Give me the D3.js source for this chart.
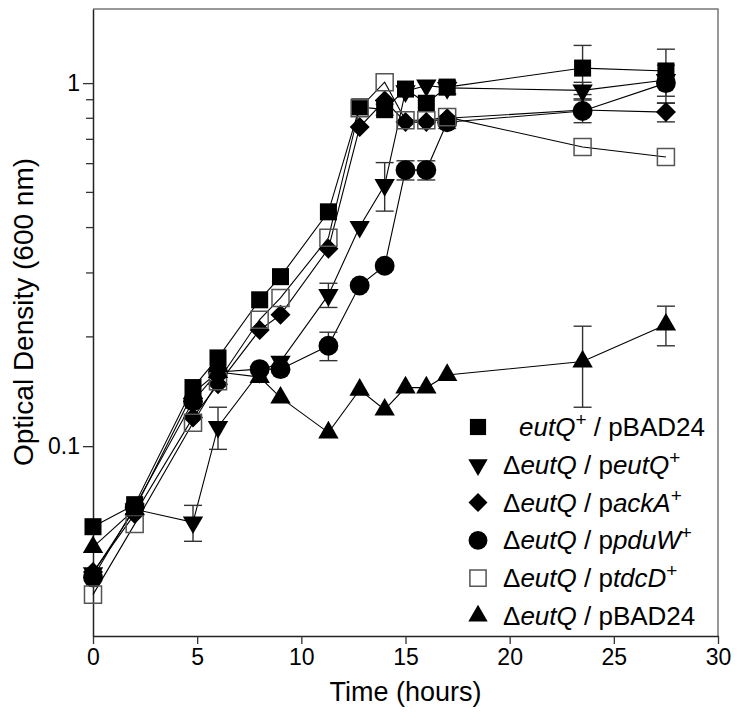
<!DOCTYPE html>
<html>
<head>
<meta charset="utf-8">
<script src="https://cdn.jsdelivr.net/npm/d3@7"></script>
<style>
  body { margin: 0; background: #fff; }
  text { font-family: Arial, "Liberation Sans", sans-serif; fill: #000; }
</style>
</head>
<body>
<div id="chart"></div>
<script>
// ......................
// Data
var times = [0, 2, 4.8, 6, 8, 9, 11.3, 12.8, 14, 15, 16, 17, 23.5, 27.5];

var eutQpBAD = [0.060, 0.069, 0.145, 0.175, 0.253, 0.293, 0.442, 0.86, 0.845, 0.963, 0.88, 0.975, 1.10, 1.08];
var peutQ    = [0.0447, 0.067, 0.0617, 0.113, 0.16, 0.171, 0.261, 0.402, 0.524, 0.95, 0.985, 0.97, 0.955, 1.02];
var packA    = [0.045, 0.065, 0.12, 0.148, 0.209, 0.23, 0.35, 0.757, 0.895, 0.781, 0.781, 0.80, 0.843, 0.832];
var ppduW    = [0.0435, 0.068, 0.133, 0.16, 0.163, 0.163, 0.189, 0.277, 0.314, 0.576, 0.576, 0.78, 0.838, 1.0];
var ptdcD    = [0.039, 0.061, 0.116, 0.151, 0.223, 0.256, 0.375, 0.853, 1.006, 0.79, 0.79, 0.806, 0.667, 0.626];
var pBAD24   = [0.0527, 0.067, 0.14, 0.16, 0.155, 0.136, 0.109, 0.143, 0.126, 0.145, 0.145, 0.157, 0.171, 0.216];

// error bars (+/-), 0 = none drawn
var errEutQpBAD = [0, 0, 0, 0, 0, 0, 0, 0, 0.03, 0, 0, 0.04, 0.17, 0.16];
var errPeutQ    = [0, 0, 0.007, 0.015, 0, 0, 0.02, 0, 0.08, 0, 0, 0.04, 0.05, 0];
var errPackA    = [0, 0, 0, 0, 0, 0, 0, 0, 0, 0, 0, 0, 0, 0.05];
var errPpduW    = [0, 0, 0, 0, 0, 0, 0.017, 0, 0, 0.035, 0.035, 0.03, 0.06, 0.12];
var errPtdcD    = [0, 0, 0, 0, 0, 0, 0, 0, 0, 0, 0, 0, 0, 0];
var errPBAD24   = [0, 0, 0, 0, 0, 0, 0, 0, 0, 0, 0, 0, 0.043, 0.027];

var xTicks = [0, 5, 10, 15, 20, 25, 30];
var yMajor = [0.1, 1];
var yMinor = [0.2, 0.3, 0.4, 0.5, 0.6, 0.7, 0.8, 0.9];

// ......................
// SVG area
var svgWidth = 744;
var svgHeight = 722;
var Margin = { top: 9, right: 26, bottom: 86, left: 93 };
var width = svgWidth - Margin.left - Margin.right;
var height = svgHeight - Margin.top - Margin.bottom;

var svg = d3.select("#chart")
    .append("svg")
    .attr("width", svgWidth)
    .attr("height", svgHeight);

var g = svg.append("g")
    .attr("transform", `translate(${Margin.left}, ${Margin.top})`);

var xScale = d3.scaleLinear().domain([0, 30]).range([0, width]);
var yScale = d3.scaleLog().domain([0.03, 1.6]).range([height, 0]);

// frame top / right
g.append("path")
    .attr("d", `M0,0H${width}V${height}`)
    .attr("fill", "none")
    .attr("stroke", "#777")
    .attr("stroke-width", 1.5);

// x axis
var xAxis = g.append("g")
    .attr("transform", `translate(0, ${height})`)
    .call(d3.axisBottom(xScale).tickValues(xTicks).tickSize(8).tickPadding(5).tickSizeOuter(0));

// y axis
var yAxis = g.append("g")
    .call(d3.axisLeft(yScale).tickValues(yMajor).tickFormat(d3.format("")).tickSize(10).tickPadding(3).tickSizeOuter(0));

g.append("g").selectAll("line")
    .data(yMinor)
    .enter()
    .append("line")
    .attr("x1", -7).attr("x2", 0)
    .attr("y1", d => yScale(d)).attr("y2", d => yScale(d))
    .attr("stroke", "#333").attr("stroke-width", 1.3);

[xAxis, yAxis].forEach(function(ax) {
    ax.select(".domain").attr("stroke", "#222").attr("stroke-width", 1.5);
    ax.selectAll(".tick line").attr("stroke", "#333").attr("stroke-width", 1.3);
    ax.selectAll(".tick text").style("font-size", "23px").attr("fill", "#000");
});

// axis titles
svg.append("text")
    .attr("x", Margin.left + width / 2)
    .attr("y", 701)
    .attr("text-anchor", "middle")
    .style("font-size", "27px")
    .text("Time (hours)");

svg.append("text")
    .attr("transform", "translate(33, 312) rotate(-90)")
    .attr("text-anchor", "middle")
    .style("font-size", "28px")
    .text("Optical Density (600 nm)");

// ......................
// series
var series = [
    { values: eutQpBAD, err: errEutQpBAD, shape: "square" },
    { values: peutQ,    err: errPeutQ,    shape: "down" },
    { values: packA,    err: errPackA,    shape: "diamond" },
    { values: ppduW,    err: errPpduW,    shape: "circle" },
    { values: ptdcD,    err: errPtdcD,    shape: "open" },
    { values: pBAD24,   err: errPBAD24,   shape: "up" }
];

function markerPath(shape, scale) {
    var k = scale || 1;
    if (shape === "square" || shape === "open") return d3.symbol(d3.symbolSquare, 290 * k * k)();
    if (shape === "circle") return d3.symbol(d3.symbolCircle, 310 * k * k)();
    if (shape === "diamond") return d3.symbol(d3.symbolSquare, 200 * k * k)();
    return d3.symbol(d3.symbolTriangle, 180 * k * k)();
}

function markerRotate(shape) {
    if (shape === "down") return " rotate(180)";
    if (shape === "diamond") return " rotate(45)";
    return "";
}

var line = d3.line()
    .x(d => xScale(d[0]))
    .y(d => yScale(d[1]));

// lines first
series.forEach(function(s) {
    g.append("path")
        .datum(times.map((t, i) => [t, s.values[i]]))
        .attr("d", line)
        .attr("fill", "none")
        .attr("stroke", "#000")
        .attr("stroke-width", 1.1);
});

// error bars
series.forEach(function(s) {
    var pts = times.map((t, i) => ({ t: t, v: s.values[i], e: s.err[i] })).filter(d => d.e > 0);
    var eb = g.append("g").selectAll("g").data(pts).enter().append("g")
        .attr("stroke", "#333").attr("stroke-width", 1.4);
    eb.append("line")
        .attr("x1", d => xScale(d.t)).attr("x2", d => xScale(d.t))
        .attr("y1", d => yScale(d.v + d.e)).attr("y2", d => yScale(d.v - d.e));
    eb.append("line")
        .attr("x1", d => xScale(d.t) - 9).attr("x2", d => xScale(d.t) + 9)
        .attr("y1", d => yScale(d.v + d.e)).attr("y2", d => yScale(d.v + d.e));
    eb.append("line")
        .attr("x1", d => xScale(d.t) - 9).attr("x2", d => xScale(d.t) + 9)
        .attr("y1", d => yScale(d.v - d.e)).attr("y2", d => yScale(d.v - d.e));
});

// markers
series.forEach(function(s) {
    g.append("g").selectAll("path")
        .data(times.map((t, i) => [t, s.values[i]]))
        .enter()
        .append("path")
        .attr("d", markerPath(s.shape))
        .attr("transform", d => `translate(${xScale(d[0])}, ${yScale(d[1])})` + markerRotate(s.shape))
        .attr("fill", s.shape === "open" ? "none" : "#000")
        .attr("stroke", s.shape === "open" ? "#555" : "none")
        .attr("stroke-width", 1.5);
});

// ......................
// legend
var legendRows = [
    { shape: "square",  x: 519, parts: [["eutQ", "i"], ["+", "sup"], [" / pBAD24", "n"]] },
    { shape: "down",    x: 503, parts: [["\u0394", "n"], ["eutQ", "i"], [" / p", "n"], ["eutQ", "i"], ["+", "sup"]] },
    { shape: "diamond", x: 503, parts: [["\u0394", "n"], ["eutQ", "i"], [" / p", "n"], ["ackA", "i"], ["+", "sup"]] },
    { shape: "circle",  x: 503, parts: [["\u0394", "n"], ["eutQ", "i"], [" / p", "n"], ["pduW", "i"], ["+", "sup"]] },
    { shape: "open",    x: 503, parts: [["\u0394", "n"], ["eutQ", "i"], [" / p", "n"], ["tdcD", "i"], ["+", "sup"]] },
    { shape: "up",      x: 503, parts: [["\u0394", "n"], ["eutQ", "i"], [" / pBAD24", "n"]] }
];

var legend = svg.append("g");
legendRows.forEach(function(r, i) {
    var cy = 427 + i * 37.8;
    legend.append("path")
        .attr("d", markerPath(r.shape, 0.95))
        .attr("transform", `translate(478, ${cy})` + markerRotate(r.shape))
        .attr("fill", r.shape === "open" ? "none" : "#000")
        .attr("stroke", r.shape === "open" ? "#555" : "none")
        .attr("stroke-width", 1.5);

    var txt = legend.append("text")
        .attr("x", r.x)
        .attr("y", cy + 9)
        .style("font-size", "26px");
    var raised = false;
    r.parts.forEach(function(p) {
        var ts = txt.append("tspan").text(p[0]);
        if (p[1] === "i") ts.style("font-style", "italic");
        if (p[1] === "sup") {
            ts.attr("dy", -10).style("font-size", "19px");
            raised = true;
        } else if (raised) {
            ts.attr("dy", 10);
            raised = false;
        }
    });
});
</script>
</body>
</html>
